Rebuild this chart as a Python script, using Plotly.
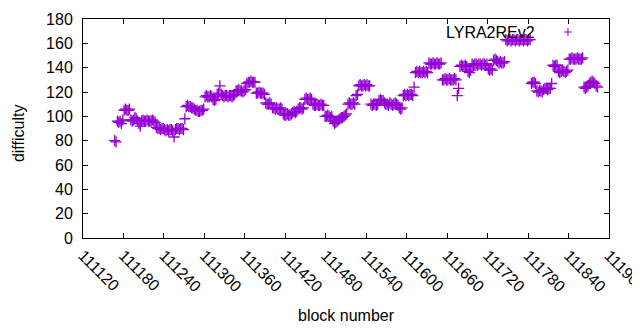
import plotly.graph_objects as go

# difficulty values, one per every second block starting at block 111167
difficulty = [
    80, 79,
    96, 95, 96, 94, 97,
    105, 106, 105, 105, 106,
    97, 96, 97, 99, 98, 96, 94, 92,
    96, 97, 96, 96, 97, 96, 96, 96, 97, 96, 95,
    91, 90, 90, 89, 90, 90,
    89, 88, 89, 88, 89, 89, 88,
    83,
    89, 90, 90, 89, 90, 90, 89,
    98, 108, 109, 108, 108, 107, 107, 106, 105, 105, 104, 104, 105, 105, 106,
    116, 117, 116, 116, 117, 116,
    114, 113, 114,
    118, 119,
    125,
    118, 117, 116, 117, 117, 116, 117, 117, 116, 117, 118,
    121, 121, 122, 121, 121, 120, 121, 122,
    127, 128, 128, 129, 128, 128, 128,
    119, 119, 120, 119, 119, 119, 118,
    111, 110, 110, 111, 110,
    107, 107, 106, 107, 106, 106, 107, 106,
    102, 101, 101, 102, 101, 101, 102,
    103, 104, 103, 104,
    106, 107, 107, 106, 107,
    114, 115, 114, 114, 115, 114,
    110, 109, 109, 110, 109, 109, 110, 109, 109,
    100, 100, 101, 100, 99, 100,
    96, 94, 95, 96, 97,
    98, 99, 99, 100, 101, 102,
    110, 111, 110, 110, 111, 110,
    117, 118,
    125, 126, 125, 125, 126, 125, 126, 125, 125,
    110, 109, 110, 110, 109, 110,
    113, 114, 113, 113,
    111, 110, 110, 109, 111, 110, 109, 110, 111, 110, 109,
    107, 106, 107,
    117, 118, 117, 118, 117, 118, 118, 117,
    124,
    136, 137, 136, 137, 136, 136, 137, 136, 137, 136,
    144, 143, 143, 144, 143, 143, 144, 143, 143, 144,
    130, 130, 131, 130, 130, 131, 130, 130, 130, 131, 130,
    117, 123,
    141, 142, 141, 141, 142, 141,
    137, 136, 138,
    143, 142, 143, 143, 142, 143, 143, 142, 143, 143, 142, 143,
    139, 138, 139, 138,
    146, 147, 146, 145,
    144, 145, 144, 144, 145,
    163, 162, 163, 163, 162, 163, 163, 162, 163, 163, 162, 163, 163, 162, 163, 163, 162, 163, 163,
    127, 128, 128, 127,
    121, 120, 121, 121, 120,
    122, 123, 123, 122, 123, 123,
    127,
    142, 141, 142, 142,
    137, 136, 137, 138, 137, 136, 137, 138,
    147, 147, 148, 147, 147, 147, 148, 147, 147, 147, 148,
    124, 123, 124, 125,
    127, 128, 129, 128, 127,
    125, 124,
]
first_block = 111167
blocks = list(range(first_block, first_block + 2 * len(difficulty), 2))

xtick_vals = [111120, 111180, 111240, 111300, 111360, 111420, 111480,
              111540, 111600, 111660, 111720, 111780, 111840, 111900]
ytick_vals = [0, 20, 40, 60, 80, 100, 120, 140, 160, 180]
series_name = "LYRA2REv2"

PURPLE = "#9400D3"
FONT = "Liberation Sans, Arial, sans-serif"

fig = go.Figure()
fig.add_trace(go.Scatter(
    x=blocks, y=difficulty, mode="markers", showlegend=False,
    marker=dict(symbol="cross-thin", size=8, color=PURPLE,
                line=dict(width=1.3, color=PURPLE)),
))

axis_common = dict(
    showline=True, linecolor="black", linewidth=1, mirror="allticks",
    ticks="inside", ticklen=5, tickwidth=1, tickcolor="black",
    showgrid=False, zeroline=False, automargin=False,
)

# the page body has an 8px margin, so the figure is sized to fit the window
fig.update_layout(
    width=632, height=322,
    margin=dict(l=75, r=31, t=11, b=92),
    paper_bgcolor="white", plot_bgcolor="white",
    font=dict(family=FONT, size=16, color="black"),
    xaxis=dict(range=[111120, 111900], tickvals=xtick_vals,
               ticktext=[str(v) for v in xtick_vals], tickangle=45,
               ticklabelstandoff=1, ticklabeloverflow="allow",
               **axis_common),
    yaxis=dict(range=[0, 180], tickvals=ytick_vals,
               ticktext=[str(v) for v in ytick_vals], ticklabelstandoff=6,
               **axis_common),
    annotations=[
        dict(text="difficulty", xref="paper", yref="paper", x=-0.1236, y=0.479,
             textangle=-90, showarrow=False, xanchor="center", yanchor="middle"),
        dict(text="block number", xref="paper", yref="paper", x=0.5, y=-0.3516,
             showarrow=False, xanchor="center", yanchor="middle"),
        dict(text=series_name, xref="paper", yref="paper", x=0.863, y=0.9406,
             showarrow=False, xanchor="right", yanchor="middle"),
    ],
    shapes=[
        dict(type="line", xref="paper", yref="paper", x0=0.9144, x1=0.9296,
             y0=0.9406, y1=0.9406, line=dict(color=PURPLE, width=1)),
        dict(type="line", xref="paper", yref="paper", x0=0.922, x1=0.922,
             y0=0.9223, y1=0.9589, line=dict(color=PURPLE, width=1)),
    ],
)

fig.write_html("out.html", config={"displayModeBar": False})
